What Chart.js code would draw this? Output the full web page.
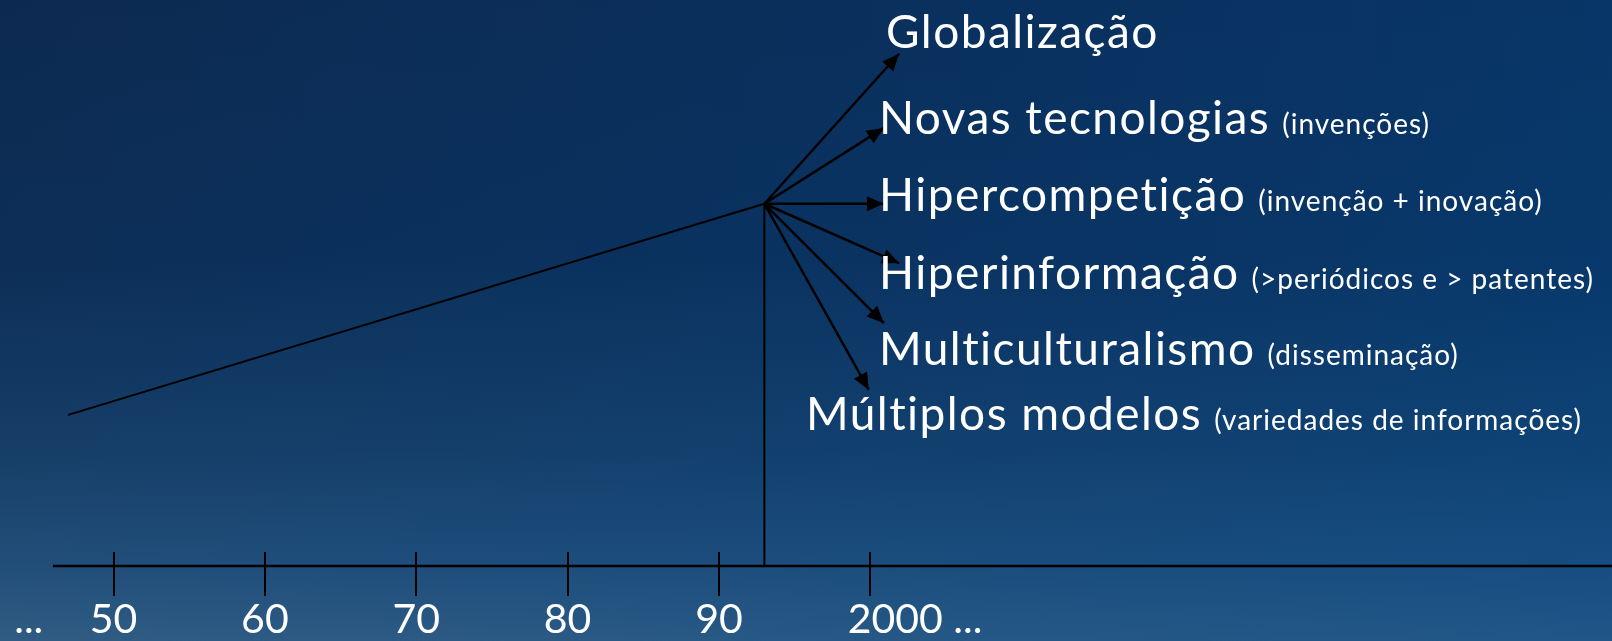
<!DOCTYPE html>
<html>
<head>
<meta charset="utf-8">
<script src="https://cdn.jsdelivr.net/npm/chart.js@4.4.1/dist/chart.umd.min.js"></script>
<style>
    html, body { margin: 0; padding: 0; background: #123a63; }
    #wrap { width: 1612px; height: 641px; position: relative; }
</style>
</head>
<body>
<div id="wrap"><canvas id="timeline"></canvas></div>
<script>
// decades with a tick mark on the time axis
var decades = [1950, 1960, 1970, 1980, 1990, 2000];
// label texts under the axis and the year each one is centred on
var axisLabelYears = [1944.4, 1950, 1960, 1970, 1980, 1990, 2002.95];
var axisLabels = ['...', '50', '60', '70', '80', '90', '2000 ...'];

// growth line up to the turning point, then the drop to the axis
var trendYears = [1947, 1993];
var trendLevels = [26.7, 64];
var turnYear = 1993;
var turnLevel = 64;

// where each arrow ends (year, level)
var arrowYears = [2001.9, 2000.9, 2000.9, 2001.9, 2000.9, 1999.9];
var arrowLevels = [90.5, 77.4, 64, 53.5, 42.9, 31.1];

var mainLabels = ['Globalização', 'Novas tecnologias', 'Hipercompetição', 'Hiperinformação', 'Multiculturalismo', 'Múltiplos modelos'];
var subLabels = ['', '(invenções)', '(invenção + inovação)', '(>periódicos e > patentes)', '(disseminação)', '(variedades de informações)'];

Chart.defaults.font.family = 'Lato';

var datasets = [];
// axis line
datasets.push({
    data: [{x: 1946, y: 0}, {x: 2049, y: 0}],
    borderColor: '#000', borderWidth: 2.5, pointRadius: 0, clip: false
});
// rising line
datasets.push({
    data: trendYears.map(function (v, i) { return {x: v, y: trendLevels[i]}; }),
    borderColor: '#000', borderWidth: 2, pointRadius: 0, clip: false
});
// vertical drop
datasets.push({
    data: [{x: turnYear, y: turnLevel}, {x: turnYear, y: 0}],
    borderColor: '#000', borderWidth: 2, pointRadius: 0, clip: false
});
// arrows
for (var i = 0; i < arrowYears.length; i++) {
    datasets.push({
        data: [{x: turnYear, y: turnLevel}, {x: arrowYears[i], y: arrowLevels[i]}],
        borderColor: '#000', borderWidth: 2.5, pointRadius: 0, clip: false,
        isArrow: true
    });
}

var backgroundPlugin = {
    id: 'slideBackground',
    beforeDraw: function (chart) {
        var ctx = chart.ctx, w = chart.width, h = chart.height;
        ctx.save();
        var g = ctx.createLinearGradient(0, 0, 0, h);
        g.addColorStop(0, '#0c2a51');
        g.addColorStop(0.4, '#0c2e57');
        g.addColorStop(0.7, '#163e67');
        g.addColorStop(0.88, '#214e79');
        g.addColorStop(1, '#305c83');
        ctx.fillStyle = g;
        ctx.fillRect(0, 0, w, h);
        var g2 = ctx.createLinearGradient(0, 0, w, 0);
        g2.addColorStop(0, 'rgba(0,70,140,0)');
        g2.addColorStop(1, 'rgba(0,75,145,0.35)');
        ctx.fillStyle = g2;
        ctx.fillRect(0, 0, w, h);
        ctx.restore();
    }
};

var marksPlugin = {
    id: 'marks',
    afterDatasetsDraw: function (chart) {
        var ctx = chart.ctx;
        var xs = chart.scales.x, ys = chart.scales.y;
        var axisY = ys.getPixelForValue(0);
        ctx.save();
        ctx.strokeStyle = '#000';
        ctx.lineWidth = 2;
        // tick marks crossing the axis
        decades.forEach(function (d) {
            var px = Math.round(xs.getPixelForValue(d));
            ctx.beginPath();
            ctx.moveTo(px, axisY - 14);
            ctx.lineTo(px, axisY + 30);
            ctx.stroke();
        });
        // arrow heads
        ctx.fillStyle = '#000';
        chart.data.datasets.forEach(function (ds, k) {
            if (!ds.isArrow) return;
            var pts = chart.getDatasetMeta(k).data;
            var a = pts[0], b = pts[1];
            var ang = Math.atan2(b.y - a.y, b.x - a.x);
            var len = 17, half = 7.5;
            ctx.beginPath();
            ctx.moveTo(b.x, b.y);
            ctx.lineTo(b.x - len * Math.cos(ang) + half * Math.sin(ang), b.y - len * Math.sin(ang) - half * Math.cos(ang));
            ctx.lineTo(b.x - len * Math.cos(ang) - half * Math.sin(ang), b.y - len * Math.sin(ang) + half * Math.cos(ang));
            ctx.closePath();
            ctx.fill();
        });
        ctx.restore();
    }
};

// label anchors: left edge and baseline of each main label
var labelLeft = [886, 879, 879, 879, 879, 806];
var labelBase = [48, 134, 211, 289, 365, 430];

var labelsPlugin = {
    id: 'arrowLabels',
    afterDraw: function (chart) {
        var ctx = chart.ctx;
        ctx.save();
        ctx.fillStyle = '#fff';
        ctx.textBaseline = 'alphabetic';
        ctx.textAlign = 'left';
        mainLabels.forEach(function (t, i) {
            ctx.font = '46px Lato';
            ctx.letterSpacing = '1.45px';
            ctx.fillText(t, labelLeft[i], labelBase[i]);
            if (subLabels[i]) {
                var w = ctx.measureText(t).width;
                ctx.font = '28px Lato';
                ctx.letterSpacing = '1px';
                ctx.fillText(subLabels[i], labelLeft[i] + w + 12, labelBase[i]);
            }
        });
        ctx.restore();
    }
};

new Chart(document.getElementById('timeline'), {
    type: 'line',
    data: {datasets: datasets},
    options: {
        responsive: true,
        maintainAspectRatio: false,
        animation: false,
        layout: {padding: 0},
        plugins: {legend: {display: false}, tooltip: {enabled: false}},
        elements: {line: {tension: 0}},
        scales: {
            x: {
                type: 'linear',
                min: 1942.5,
                max: 2049,
                grid: {display: false, drawTicks: false},
                border: {display: false},
                afterBuildTicks: function (scale) {
                    scale.ticks = axisLabelYears.map(function (v) { return {value: v}; });
                },
                afterFit: function (scale) {
                    scale.height = 75;
                    scale.paddingLeft = 0;
                    scale.paddingRight = 0;
                },
                ticks: {
                    autoSkip: false,
                    maxRotation: 0,
                    padding: 35,
                    color: '#fff',
                    font: {size: 41, lineHeight: 0.9},
                    callback: function (value) {
                        var k = axisLabelYears.indexOf(value);
                        return k >= 0 ? axisLabels[k] : '';
                    }
                }
            },
            y: {
                type: 'linear',
                display: false,
                min: 0,
                max: 100
            }
        }
    },
    plugins: [backgroundPlugin, marksPlugin, labelsPlugin]
});
</script>
</body>
</html>
